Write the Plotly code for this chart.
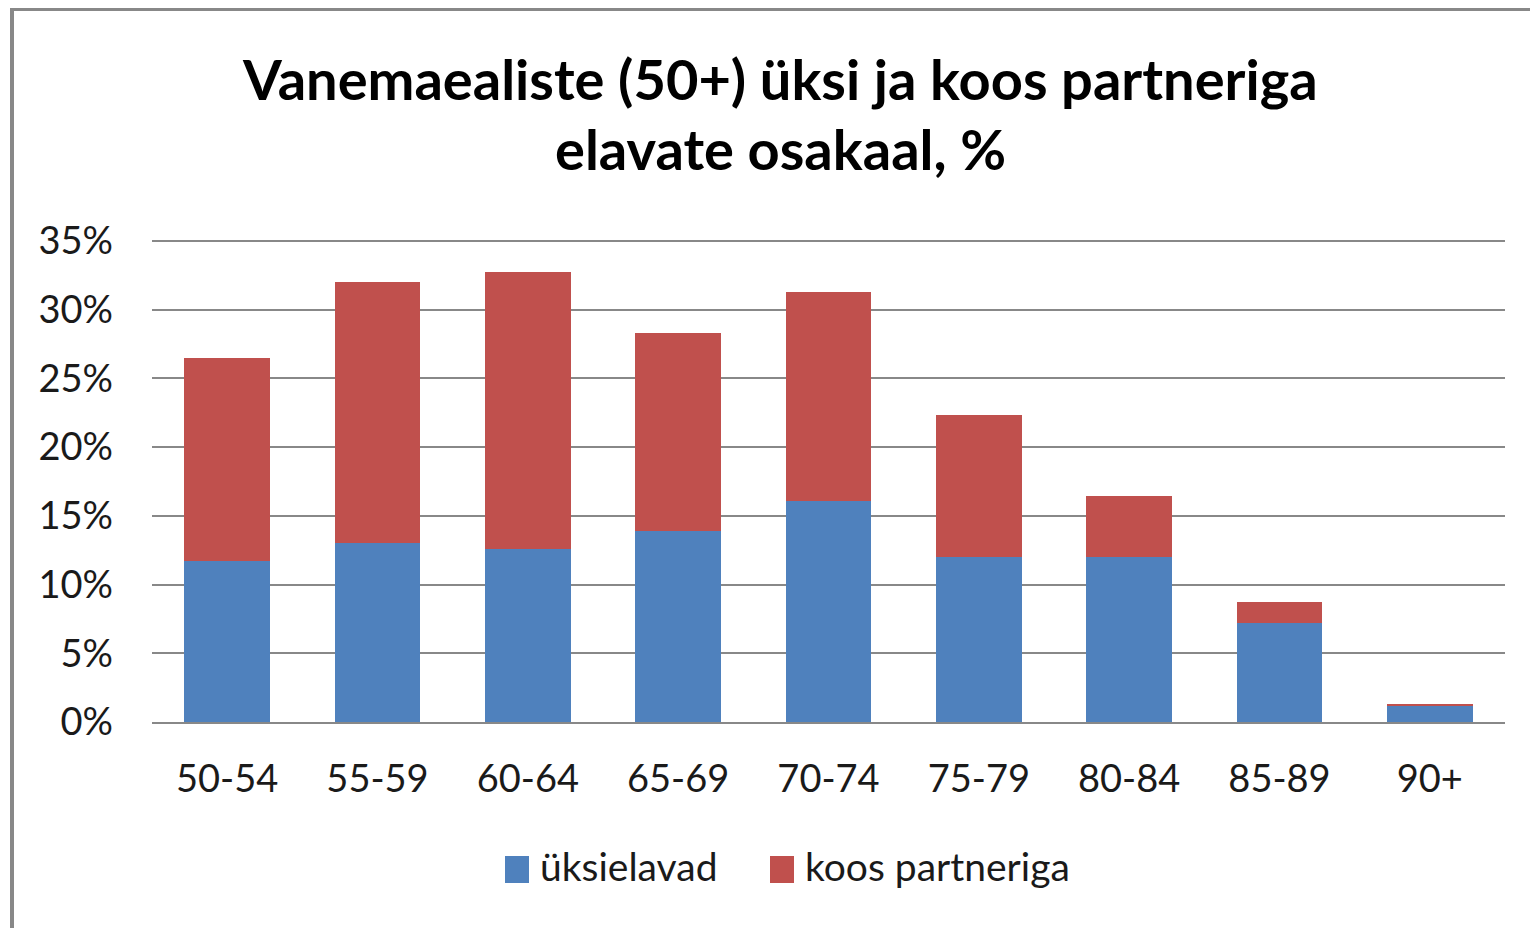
import plotly.graph_objects as go

categories = ["50-54", "55-59", "60-64", "65-69", "70-74", "75-79", "80-84", "85-89", "90+"]
uksielavad = [11.7, 13.0, 12.6, 13.9, 16.1, 12.0, 12.0, 7.2, 1.15]
koos_total = [26.5, 32.0, 32.75, 28.3, 31.3, 22.35, 16.45, 8.75, 1.3]
koos_partneriga = [round(t - u, 2) for t, u in zip(koos_total, uksielavad)]
y_ticks = [0, 5, 10, 15, 20, 25, 30, 35]
y_tick_labels = [f"{v}%" for v in y_ticks]
legend_names = ["üksielavad", "koos partneriga"]
colors = ["#4F81BD", "#C0504D"]

title_line1 = "Vanemaealiste (50+) üksi ja koos partneriga"
title_line2 = "elavate osakaal, %"

FONT = "Lato"
OFF = 8  # page body margin
W, H = 1530, 920
# plot area in reference pixel coordinates
PX0, PX1, PY0, PY35 = 152, 1505, 722, 241
per_unit = (PY0 - PY35) / 35.0
y_top = 35 + 3 / per_unit
L = PX0 - OFF
R = W - (PX1 - OFF)
B = H - (PY0 - OFF)
T = (PY35 - OFF) - 3
pw, ph = W - L - R, H - T - B


def px_x(px):
    return (px - OFF - L) / pw


def px_y(py):
    return (H - B - (py - OFF)) / ph


fig = go.Figure()
fig.add_trace(go.Bar(x=categories, y=uksielavad, name=legend_names[0],
                     marker=dict(color=colors[0], line=dict(width=0))))
fig.add_trace(go.Bar(x=categories, y=koos_partneriga, name=legend_names[1],
                     marker=dict(color=colors[1], line=dict(width=0))))

fig.update_layout(
    width=W, height=H,
    margin=dict(l=L, r=R, t=T, b=B),
    barmode="stack", bargap=0.43,
    plot_bgcolor="white", paper_bgcolor="white",
    font=dict(family=FONT, color="#1a1a1a"),
    showlegend=False,
)
fig.update_yaxes(range=[0, y_top], tickvals=y_ticks, ticktext=y_tick_labels,
                 showgrid=True, gridcolor="#888888", gridwidth=2,
                 zeroline=False, showline=False, ticks="",
                 tickfont=dict(size=38, family=FONT, color="#1a1a1a"),
                 ticklabelstandoff=38)
fig.update_xaxes(showgrid=False, showline=True, linecolor="#888888", linewidth=2,
                 ticks="", tickfont=dict(size=38, family=FONT, color="#1a1a1a"),
                 ticklabelstandoff=22)

# title (two centred lines)
for txt, cy in [(title_line1, 78), (title_line2, 148)]:
    fig.add_annotation(text=f"<b>{txt}</b>", x=px_x(780), y=px_y(cy),
                       xref="paper", yref="paper", xanchor="center", yanchor="middle",
                       showarrow=False, font=dict(size=56, family=FONT, color="black"))

# legend: swatches + labels
legend_sw = [(505, 529), (770, 794)]
legend_tx = [538, 803]
for name, col, (sx0, sx1), tx in zip(legend_names, colors, legend_sw, legend_tx):
    fig.add_shape(type="rect", xref="paper", yref="paper",
                  x0=px_x(sx0), x1=px_x(sx1), y0=px_y(883), y1=px_y(856),
                  line=dict(width=0), fillcolor=col)
    fig.add_annotation(text=name, x=px_x(tx), y=px_y(866), xref="paper", yref="paper",
                       xanchor="left", yanchor="middle", showarrow=False,
                       font=dict(size=39, family=FONT, color="#1a1a1a"))

# outer chart border (partly cut off at right and bottom)
fig.add_shape(type="rect", xref="paper", yref="paper",
              x0=px_x(12), x1=px_x(1580), y0=px_y(980), y1=px_y(9),
              line=dict(color="#888888", width=4), fillcolor="rgba(0,0,0,0)", layer="below")

fig.write_html("out.html")
